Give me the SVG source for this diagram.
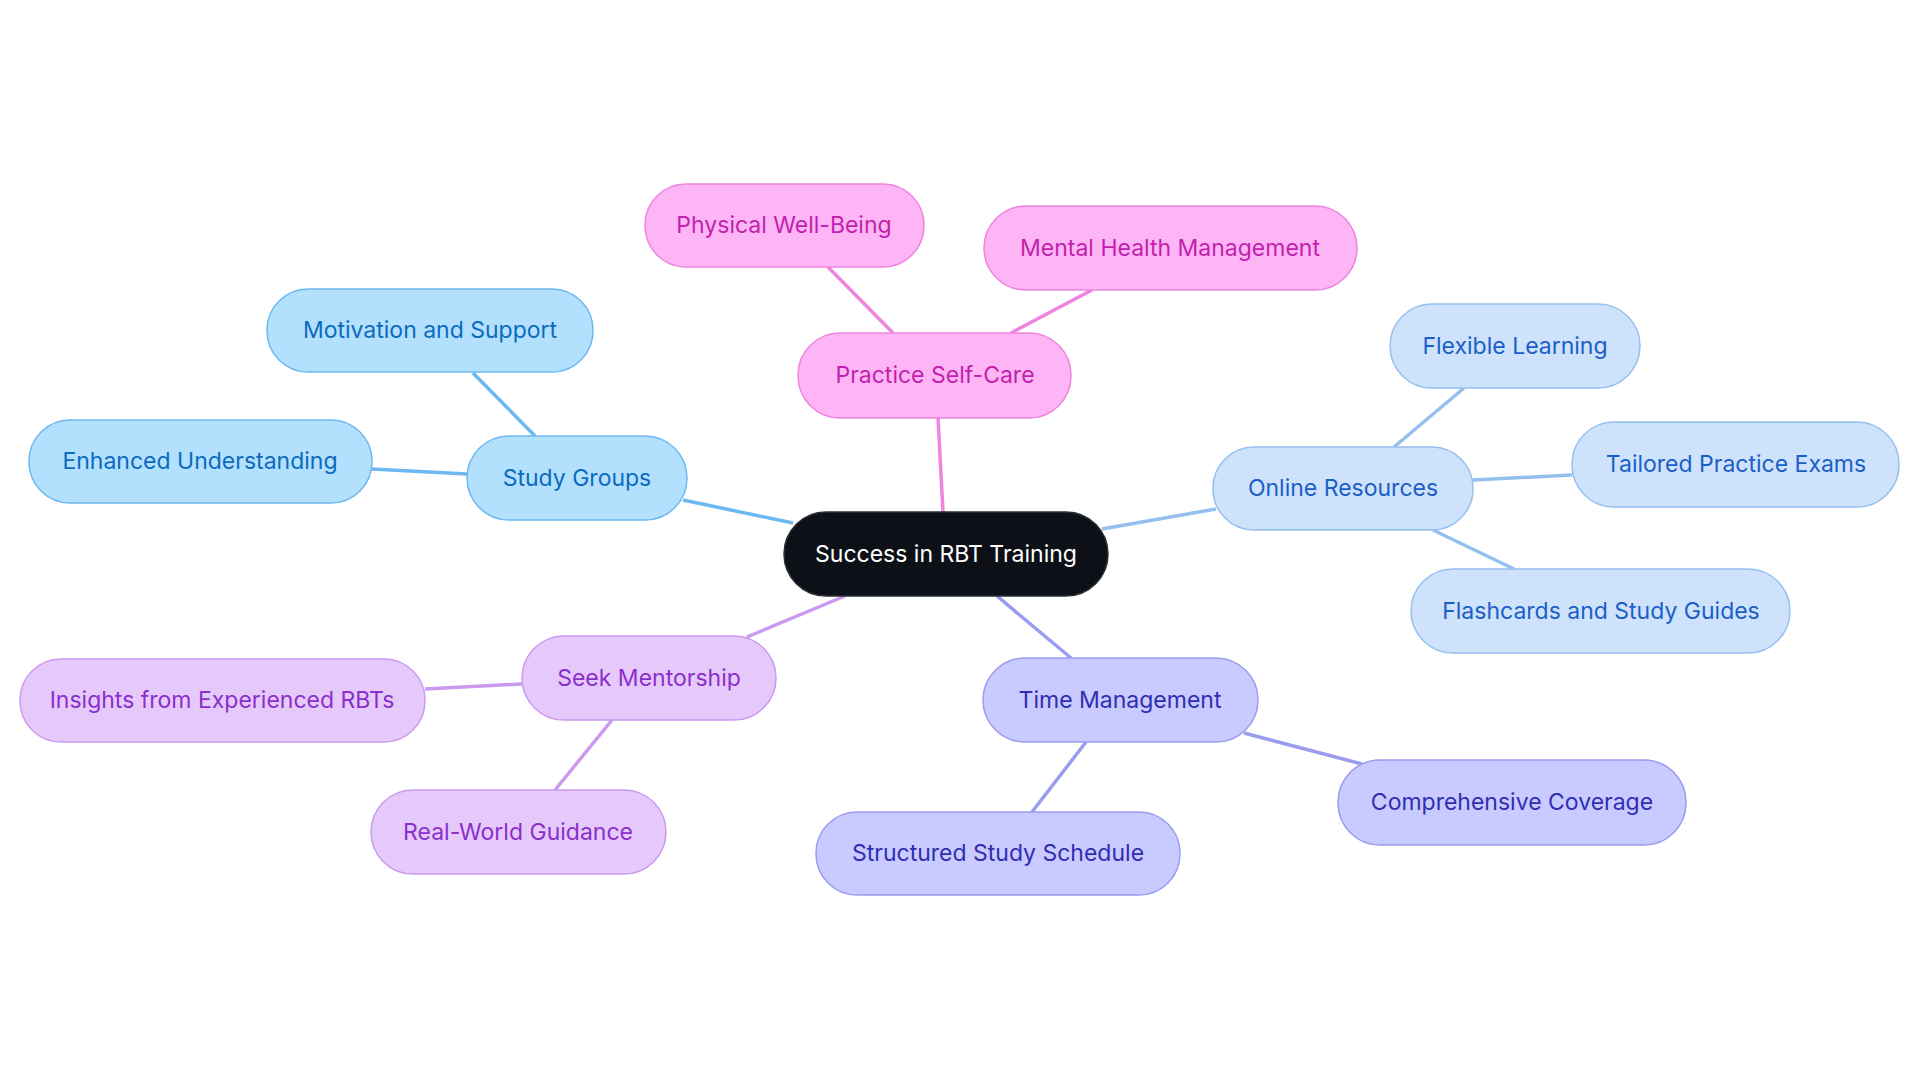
<svg xmlns="http://www.w3.org/2000/svg" width="1920" height="1083" viewBox="0 0 1920 1083">
<style>
text{font-family:Inter,"Liberation Sans",sans-serif;font-size:23px;text-anchor:middle;dominant-baseline:central}
rect{stroke-width:1.5}
.b rect{fill:#b3e0fd;stroke:#6cb8f0}.b text{fill:#0b6bbf}
.p rect{fill:#fdb5f5;stroke:#ee84e0}.p text{fill:#c21fae}
.o rect{fill:#cfe2fb;stroke:#94c0f0}.o text{fill:#1a5fc7}
.t rect{fill:#c9caff;stroke:#9a9cf0}.t text{fill:#2f2fb0}
.m rect{fill:#e6c9fb;stroke:#c99af0}.m text{fill:#8a2fcc}
line{stroke-width:3.5}
.lb{stroke:#6cb8f0}.lp{stroke:#ee84e0}.lo{stroke:#94c0f0}.lt{stroke:#9a9cf0}.lm{stroke:#c99af0}
</style>
<rect width="1920" height="1083" fill="#fff"/>
<g id="connectors">
<line class="lb" x1="793" y1="523" x2="683" y2="500"/>
<line class="lb" x1="535" y1="436" x2="473" y2="373"/>
<line class="lb" x1="467" y1="474" x2="372" y2="469"/>
<line class="lp" x1="943" y1="512" x2="938" y2="418"/>
<line class="lp" x1="893" y1="333" x2="828" y2="267"/>
<line class="lp" x1="1011" y1="333" x2="1092" y2="290"/>
<line class="lo" x1="1102" y1="529" x2="1216" y2="509"/>
<line class="lo" x1="1394" y1="447" x2="1464" y2="388"/>
<line class="lo" x1="1473" y1="480" x2="1572" y2="475"/>
<line class="lo" x1="1433" y1="530" x2="1514" y2="569"/>
<line class="lt" x1="997" y1="596" x2="1071" y2="658"/>
<line class="lt" x1="1244" y1="733" x2="1362" y2="764"/>
<line class="lt" x1="1086" y1="742" x2="1032" y2="812"/>
<line class="lm" x1="845" y1="596" x2="747" y2="637"/>
<line class="lm" x1="522" y1="684" x2="425" y2="689"/>
<line class="lm" x1="612" y1="720" x2="555" y2="790"/>
</g>
<g id="center"><rect x="784" y="512" width="324" height="84" rx="42" fill="#0d1117" stroke="#2a2f36"/><text x="946" y="554" fill="#fff">Success in RBT Training</text></g>
<g id="study" class="b"><rect x="467" y="436" width="220" height="84" rx="42"/><text x="577" y="478">Study Groups</text></g>
<g id="motivation" class="b"><rect x="267" y="289" width="326" height="83" rx="41"/><text x="430" y="330">Motivation and Support</text></g>
<g id="enhanced" class="b"><rect x="29" y="420" width="343" height="83" rx="41"/><text x="200" y="461">Enhanced Understanding</text></g>
<g id="selfcare" class="p"><rect x="798" y="333" width="273" height="85" rx="42"/><text x="935" y="375">Practice Self-Care</text></g>
<g id="physical" class="p"><rect x="645" y="184" width="279" height="83" rx="41"/><text x="784" y="225">Physical Well-Being</text></g>
<g id="mental" class="p"><rect x="984" y="206" width="373" height="84" rx="42"/><text x="1170" y="248">Mental Health Management</text></g>
<g id="online" class="o"><rect x="1213" y="447" width="260" height="83" rx="41"/><text x="1343" y="488">Online Resources</text></g>
<g id="flexible" class="o"><rect x="1390" y="304" width="250" height="84" rx="42"/><text x="1515" y="346">Flexible Learning</text></g>
<g id="tailored" class="o"><rect x="1572" y="422" width="327" height="85" rx="42"/><text x="1736" y="464">Tailored Practice Exams</text></g>
<g id="flashcards" class="o"><rect x="1411" y="569" width="379" height="84" rx="42"/><text x="1601" y="611">Flashcards and Study Guides</text></g>
<g id="time" class="t"><rect x="983" y="658" width="275" height="84" rx="42"/><text x="1120" y="700">Time Management</text></g>
<g id="comprehensive" class="t"><rect x="1338" y="760" width="348" height="85" rx="42"/><text x="1512" y="802">Comprehensive Coverage</text></g>
<g id="structured" class="t"><rect x="816" y="812" width="364" height="83" rx="41"/><text x="998" y="853">Structured Study Schedule</text></g>
<g id="mentorship" class="m"><rect x="522" y="636" width="254" height="84" rx="42"/><text x="649" y="678">Seek Mentorship</text></g>
<g id="insights" class="m"><rect x="20" y="659" width="405" height="83" rx="41"/><text x="222" y="700">Insights from Experienced RBTs</text></g>
<g id="realworld" class="m"><rect x="371" y="790" width="295" height="84" rx="42"/><text x="518" y="832">Real-World Guidance</text></g>
</svg>
